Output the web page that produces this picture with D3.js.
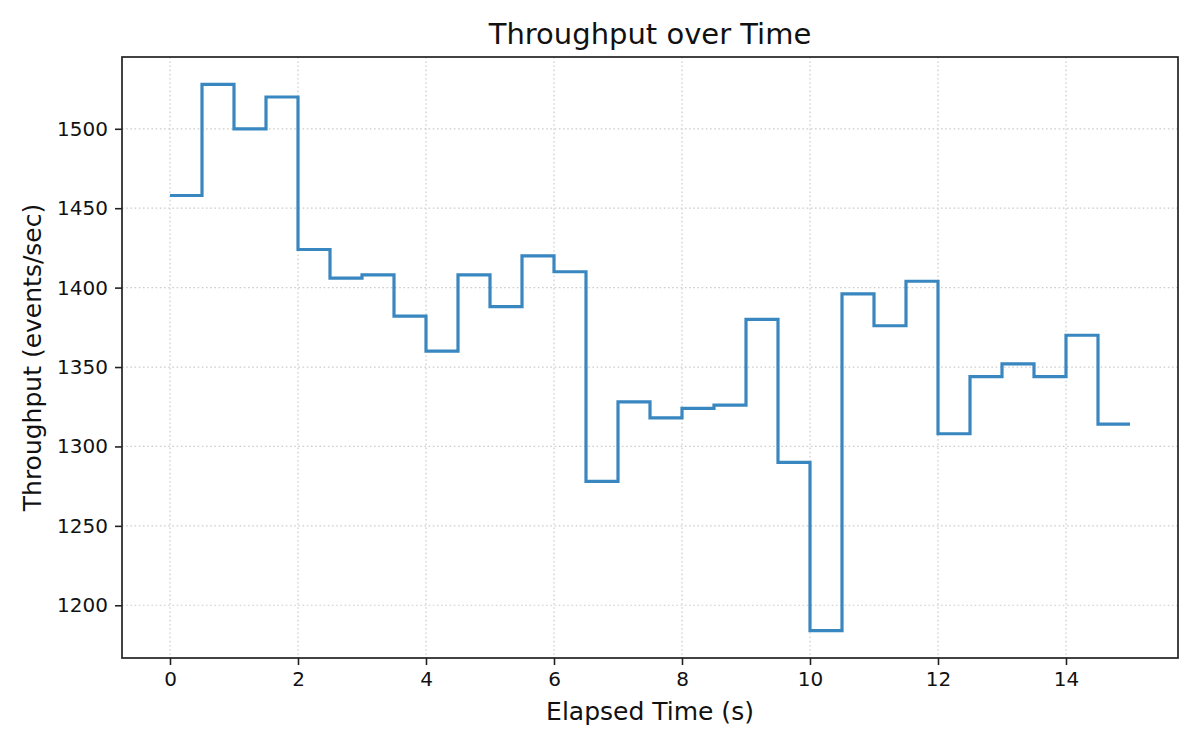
<!DOCTYPE html>
<html>
<head>
<meta charset="utf-8">
<script src="https://cdn.jsdelivr.net/npm/d3@7"></script>
<style>
  body { margin: 0; background: white; }
  svg { font-family: "DejaVu Sans", sans-serif; }
</style>
</head>
<body>
<script>
// step points (time in seconds), last value repeated so the final step is drawn
var times = [0, 0.5, 1, 1.5, 2, 2.5, 3, 3.5, 4, 4.5, 5, 5.5, 6, 6.5, 7, 7.5,
             8, 8.5, 9, 9.5, 10, 10.5, 11, 11.5, 12, 12.5, 13, 13.5, 14, 14.5, 15]
var throughput = [1458, 1528, 1500, 1520, 1424, 1406, 1408, 1382, 1360, 1408,
                  1388, 1420, 1410, 1278, 1328, 1318, 1324, 1326, 1380, 1290,
                  1184, 1396, 1376, 1404, 1308, 1344, 1352, 1344, 1370, 1314, 1314]
var xTicks = [0, 2, 4, 6, 8, 10, 12, 14]
var yTicks = [1200, 1250, 1300, 1350, 1400, 1450, 1500]

var width = 1200, height = 750
var margin = {top: 57, right: 22, bottom: 92, left: 122}

var data = times.map(function(t, i) { return [t, throughput[i]] })

var svg = d3.select("body").append("svg")
    .attr("width", width)
    .attr("height", height)

var x = d3.scaleLinear()
    .domain([-0.75, 15.75])
    .range([margin.left, width - margin.right])
var y = d3.scaleLinear()
    .domain([1166.8, 1545.2])
    .range([height - margin.bottom, margin.top])

// grid
svg.append("g").selectAll("line")
    .data(xTicks).enter().append("line")
    .attr("x1", function(d) { return x(d) }).attr("x2", function(d) { return x(d) })
    .attr("y1", margin.top).attr("y2", height - margin.bottom)
    .attr("stroke", "#cccccc").attr("stroke-width", 1.2).attr("stroke-dasharray", "1.6,2.6")
svg.append("g").selectAll("line")
    .data(yTicks).enter().append("line")
    .attr("x1", margin.left).attr("x2", width - margin.right)
    .attr("y1", function(d) { return y(d) }).attr("y2", function(d) { return y(d) })
    .attr("stroke", "#cccccc").attr("stroke-width", 1.2).attr("stroke-dasharray", "1.6,2.6")

// step line
var line = d3.line()
    .x(function(d) { return x(d[0]) })
    .y(function(d) { return y(d[1]) })
    .curve(d3.curveStepAfter)
svg.append("path")
    .datum(data)
    .attr("fill", "none")
    .attr("stroke", "#3987c0")
    .attr("stroke-width", 3.2)
    .attr("d", line)

// axes
var xAxis = svg.append("g")
    .attr("transform", "translate(0," + (height - margin.bottom) + ")")
    .call(d3.axisBottom(x).tickValues(xTicks).tickSize(7).tickPadding(7).tickFormat(d3.format("d")))
var yAxis = svg.append("g")
    .attr("transform", "translate(" + margin.left + ",0)")
    .call(d3.axisLeft(y).tickValues(yTicks).tickSize(7).tickPadding(7).tickFormat(d3.format("d")))
svg.selectAll(".domain").remove()
svg.selectAll(".tick line").attr("stroke", "#222").attr("stroke-width", 1.6)
svg.selectAll(".tick text").attr("fill", "#111").style("font-size", "20px")
    .style("font-family", "DejaVu Sans, sans-serif")

// frame
svg.append("rect")
    .attr("x", margin.left).attr("y", margin.top)
    .attr("width", width - margin.left - margin.right)
    .attr("height", height - margin.top - margin.bottom)
    .attr("fill", "none").attr("stroke", "#222").attr("stroke-width", 1.7)

// title and labels
svg.append("text")
    .attr("x", (margin.left + width - margin.right) / 2)
    .attr("y", 43.5)
    .attr("text-anchor", "middle")
    .style("font-size", "29px")
    .attr("fill", "#111")
    .text("Throughput over Time")
svg.append("text")
    .attr("x", (margin.left + width - margin.right) / 2)
    .attr("y", 720)
    .attr("text-anchor", "middle")
    .style("font-size", "25px")
    .attr("fill", "#111")
    .text("Elapsed Time (s)")
svg.append("text")
    .attr("transform", "translate(41," + ((margin.top + height - margin.bottom) / 2) + ") rotate(-90)")
    .attr("text-anchor", "middle")
    .style("font-size", "25px")
    .attr("fill", "#111")
    .text("Throughput (events/sec)")
</script>
</body>
</html>
